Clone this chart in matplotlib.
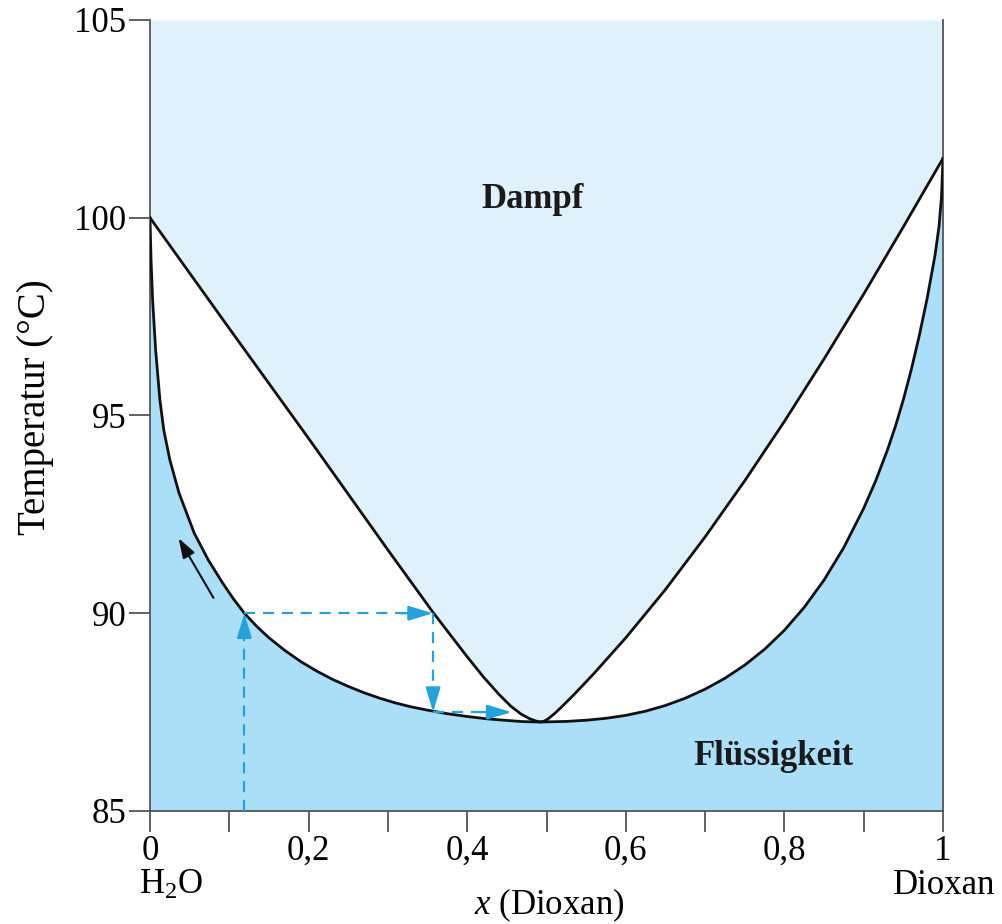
import matplotlib
matplotlib.use("Agg")
import matplotlib.pyplot as plt
from matplotlib.ticker import FuncFormatter

plt.rcParams['font.family'] = ['Liberation Serif', 'DejaVu Serif']
plt.rcParams['mathtext.fontset'] = 'custom'
plt.rcParams['mathtext.rm'] = 'Liberation Serif'
plt.rcParams['mathtext.it'] = 'Liberation Serif:italic'

# Siedekurve (Flüssigkeit)
x_liq = [0, 0.0013, 0.0033, 0.0071, 0.0125, 0.0174, 0.025, 0.0366, 0.0557,
         0.0734, 0.0914, 0.105, 0.119, 0.135, 0.15, 0.17, 0.19, 0.21, 0.23,
         0.25, 0.27, 0.29, 0.31, 0.33, 0.35, 0.375, 0.40, 0.425, 0.45, 0.47,
         0.492, 0.525, 0.55, 0.575, 0.60, 0.625, 0.65, 0.675, 0.70, 0.725,
         0.75, 0.775, 0.80, 0.825, 0.85, 0.875, 0.90, 0.915, 0.93, 0.94, 0.95,
         0.96, 0.97, 0.98, 0.99, 0.995, 0.998, 1.0]
T_liq = [100, 98.94, 97.92, 96.66, 95.39, 94.63, 93.88, 93.04, 92.03,
         91.35, 90.77, 90.37, 90.0, 89.66, 89.38, 89.06, 88.78, 88.54, 88.33,
         88.15, 87.99, 87.85, 87.73, 87.63, 87.55, 87.46, 87.39, 87.33, 87.29, 87.26,
         87.25, 87.265, 87.295, 87.344, 87.418, 87.524, 87.668, 87.852, 88.08, 88.356,
         88.689, 89.089, 89.57, 90.149, 90.84, 91.665, 92.653, 93.343, 94.131, 94.726, 95.4,
         96.16, 97.01, 97.96, 99.06, 99.785, 100.5, 101.5]

# Taukurve (Dampf)
x_vap = [0, 0.1, 0.2, 0.3, 0.357, 0.38, 0.40, 0.42, 0.44, 0.455, 0.468,
         0.478, 0.486, 0.492, 0.497, 0.502, 0.51, 0.52, 0.535, 0.56, 0.60,
         0.65, 0.70, 0.75, 0.80, 0.85, 0.90, 0.95, 1.0]
T_vap = [100, 97.2, 94.42, 91.6, 90.02, 89.42, 88.9, 88.4, 87.95, 87.65, 87.45,
         87.34, 87.28, 87.25, 87.27, 87.33, 87.46, 87.65, 87.95, 88.48, 89.38,
         90.6, 91.93, 93.35, 94.85, 96.43, 98.07, 99.77, 101.5]

# Destillationsschritte (gestrichelte Pfeile)
x_start = 0.119
T_start = 85
T_step1 = 90
x_step1 = 0.357
T_step2 = 87.5
x_step2 = 0.456

xticks = [0, 0.1, 0.2, 0.3, 0.4, 0.5, 0.6, 0.7, 0.8, 0.9, 1.0]
yticks = [85, 90, 95, 100, 105]

c_vap = '#dff1fb'
c_liq = '#abdff8'
c_dash = '#22a3dd'
c_spine = '#555555'
fs = 25

fig = plt.figure(figsize=(10.03, 9.24), dpi=100)
ax = fig.add_axes([150/1003, 1 - 811/924, 793/1003, 791/924])

ax.fill_between(x_vap, T_vap, 105, color=c_vap, lw=0, zorder=1)
ax.fill_between(x_liq, 85, T_liq, color=c_liq, lw=0, zorder=1)
ax.plot(x_vap, T_vap, color='#111111', lw=2.0, zorder=3, solid_joinstyle='round')
ax.plot(x_liq, T_liq, color='#111111', lw=2.0, zorder=3, solid_joinstyle='round')

# gestrichelte Linien
dash_kw = dict(color=c_dash, lw=1.6, dashes=(5, 3.5), zorder=4)
ax.plot([x_start, x_start], [T_start, T_step1 - 0.3], **dash_kw)
ax.plot([x_start, x_step1 - 0.015], [T_step1, T_step1], **dash_kw)
ax.plot([x_step1, x_step1], [T_step1, T_step2 + 0.3], **dash_kw)
ax.plot([x_step1, x_step2 - 0.015], [T_step2, T_step2], **dash_kw)

head_kw = dict(arrowstyle='-|>,head_length=1.5,head_width=0.45', color=c_dash, lw=1.6,
               shrinkA=0, shrinkB=0)
ax.annotate('', xy=(x_start, T_step1), xytext=(x_start, T_step1 - 0.6), arrowprops=head_kw, zorder=5)
ax.annotate('', xy=(x_step1, T_step1), xytext=(x_step1 - 0.04, T_step1), arrowprops=head_kw, zorder=5)
ax.annotate('', xy=(x_step1, T_step2), xytext=(x_step1, T_step2 + 0.6), arrowprops=head_kw, zorder=5)
ax.annotate('', xy=(x_step2, T_step2), xytext=(x_step2 - 0.04, T_step2), arrowprops=head_kw, zorder=5)

# schwarzer Pfeil
ax.annotate('', xy=(0.036, 91.9), xytext=(0.08, 90.39),
            arrowprops=dict(arrowstyle='-|>,head_length=1.2,head_width=0.4', color='#111111',
                            lw=1.5, shrinkA=0, shrinkB=0))

ax.text(0.482, 100.45, 'Dampf', fontsize=fs, fontweight='bold', ha='center', va='center', color='#1a1a1a')
ax.text(0.786, 86.37, 'Flüssigkeit', fontsize=fs, fontweight='bold', ha='center', va='center', color='#1a1a1a')

ax.set_xlim(0, 1)
ax.set_ylim(85, 105)
ax.set_xticks(xticks)
ax.set_yticks(yticks)
ax.xaxis.set_major_formatter(FuncFormatter(
    lambda v, p: ('%g' % v).replace('.', ',') if round(v * 10) % 2 == 0 else ''))
ax.tick_params(axis='both', direction='out', length=15, width=1.3, color=c_spine,
               labelsize=fs, pad=2)

ax.spines['top'].set_visible(False)
for s in ['left', 'bottom', 'right']:
    ax.spines[s].set_color(c_spine)
    ax.spines[s].set_linewidth(1.3)

ax.set_ylabel('Temperatur (°C)', fontsize=28)
ax.yaxis.set_label_coords(-0.121, 0.511)
fig.text(549/1003, 1 - 905/924, r'$x$ (Dioxan)', fontsize=fs, ha='center', va='center')
fig.text(171/1003, 1 - 885/924, r'H$_2$O', fontsize=fs, ha='center', va='center')
fig.text(944/1003, 1 - 885/924, 'Dioxan', fontsize=fs, ha='center', va='center')

fig.savefig('out.png', dpi=100)
